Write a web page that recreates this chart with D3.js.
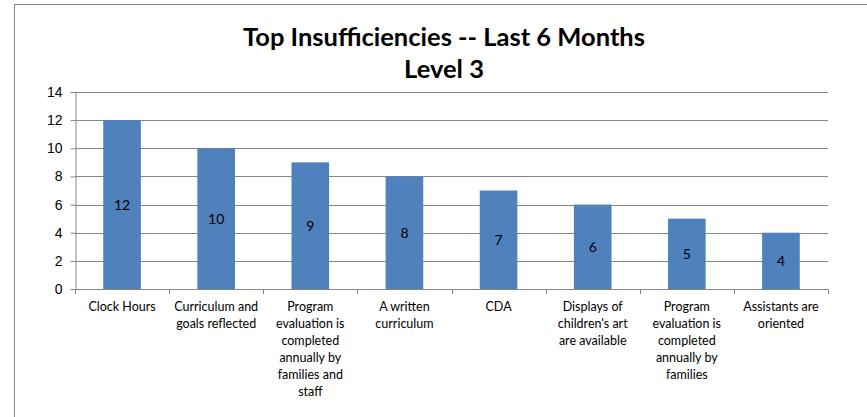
<!doctype html>
<html lang="en">
<head>
    <meta charset="utf-8"/>
    <title>Top Insufficiencies</title>
    <script src="https://d3js.org/d3.v7.min.js"></script>
    <style>
        body { margin: 0; padding: 0; background: #fff; }
        svg { font-family: Lato, "Open Sans", sans-serif; }
    </style>
</head>
<body>
<script>
    // datos del grafico
    const categories = [
        "Clock Hours",
        "Curriculum and\ngoals reflected",
        "Program\nevaluation is\ncompleted\nannually by\nfamilies and\nstaff",
        "A written\ncurriculum",
        "CDA",
        "Displays of\nchildren's art\nare available",
        "Program\nevaluation is\ncompleted\nannually by\nfamilies",
        "Assistants are\noriented"
    ]
    const values = [12, 10, 9, 8, 7, 6, 5, 4]
    const yTicks = [0, 2, 4, 6, 8, 10, 12, 14]
    const titleLines = ["Top Insufficiencies -- Last 6 Months", "Level 3"]

    const width = 867, height = 417
    const plot = {left: 75, right: 828, top: 92, bottom: 289}

    const svg = d3.select("body").append("svg")
        .attr("width", width)
        .attr("height", height)

    // marco del grafico
    svg.append("rect")
        .attr("x", 14.5).attr("y", 4.5)
        .attr("width", 900).attr("height", 500)
        .attr("fill", "#fff")
        .attr("stroke", "#868686")
        .attr("stroke-width", 1)

    // titulo
    svg.append("text")
        .attr("text-anchor", "middle")
        .attr("font-weight", "bold")
        .attr("font-size", 25.5)
        .selectAll("tspan")
        .data(titleLines)
        .join("tspan")
        .attr("x", 444)
        .attr("y", (d, i) => 46 + i * 32)
        .text(d => d)

    const x = d3.scaleBand()
        .domain(categories)
        .range([plot.left, plot.right])
        .paddingInner(0)

    const y = d3.scaleLinear()
        .domain([0, 14])
        .range([plot.bottom, plot.top])

    // lineas de la grilla
    svg.append("g")
        .selectAll("line")
        .data(yTicks.filter(d => d > 0))
        .join("line")
        .attr("x1", plot.left)
        .attr("x2", plot.right)
        .attr("y1", d => Math.round(y(d)) + 0.5)
        .attr("y2", d => Math.round(y(d)) + 0.5)
        .attr("stroke", "#868686")

    // eje y
    const yAxis = svg.append("g")
        .attr("transform", `translate(${plot.left + 0.5},0)`)
        .call(d3.axisLeft(y).tickValues(yTicks).tickSize(5).tickPadding(8).tickSizeOuter(0))
    yAxis.select(".domain").attr("stroke", "#868686")
    yAxis.selectAll(".tick line").attr("stroke", "#868686")
    yAxis.selectAll(".tick text").attr("font-size", 14).attr("fill", "#000").attr("font-family", null)

    // barras
    const barW = x.bandwidth() * 0.4
    svg.append("g")
        .selectAll("rect")
        .data(values)
        .join("rect")
        .attr("x", (d, i) => x(categories[i]) + (x.bandwidth() - barW) / 2)
        .attr("width", barW)
        .attr("y", d => y(d))
        .attr("height", d => y(0) - y(d))
        .attr("fill", "#4f81bd")

    // etiquetas de valor
    svg.append("g")
        .selectAll("text")
        .data(values)
        .join("text")
        .attr("x", (d, i) => x(categories[i]) + x.bandwidth() / 2)
        .attr("y", d => y(d / 2) + 5)
        .attr("text-anchor", "middle")
        .attr("font-size", 14)
        .text(d => d)

    // eje x
    const xAxisG = svg.append("g")
    xAxisG.append("line")
        .attr("x1", plot.left).attr("x2", plot.right)
        .attr("y1", plot.bottom + 0.5).attr("y2", plot.bottom + 0.5)
        .attr("stroke", "#868686")
    xAxisG.selectAll(".xtick")
        .data(categories.concat([null]))
        .join("line")
        .attr("x1", (d, i) => Math.round(plot.left + i * x.step()) + 0.5)
        .attr("x2", (d, i) => Math.round(plot.left + i * x.step()) + 0.5)
        .attr("y1", plot.bottom)
        .attr("y2", plot.bottom + 5)
        .attr("stroke", "#868686")

    // etiquetas de categoria
    svg.append("g")
        .selectAll("text")
        .data(categories)
        .join("text")
        .attr("text-anchor", "middle")
        .attr("font-size", 12.5)
        .each(function (d) {
            const t = d3.select(this)
            d.split("\n").forEach((line, k) => {
                t.append("tspan")
                    .attr("x", x(d) + x.bandwidth() / 2)
                    .attr("y", 311 + k * 17)
                    .text(line)
            })
        })
</script>
</body>
</html>
